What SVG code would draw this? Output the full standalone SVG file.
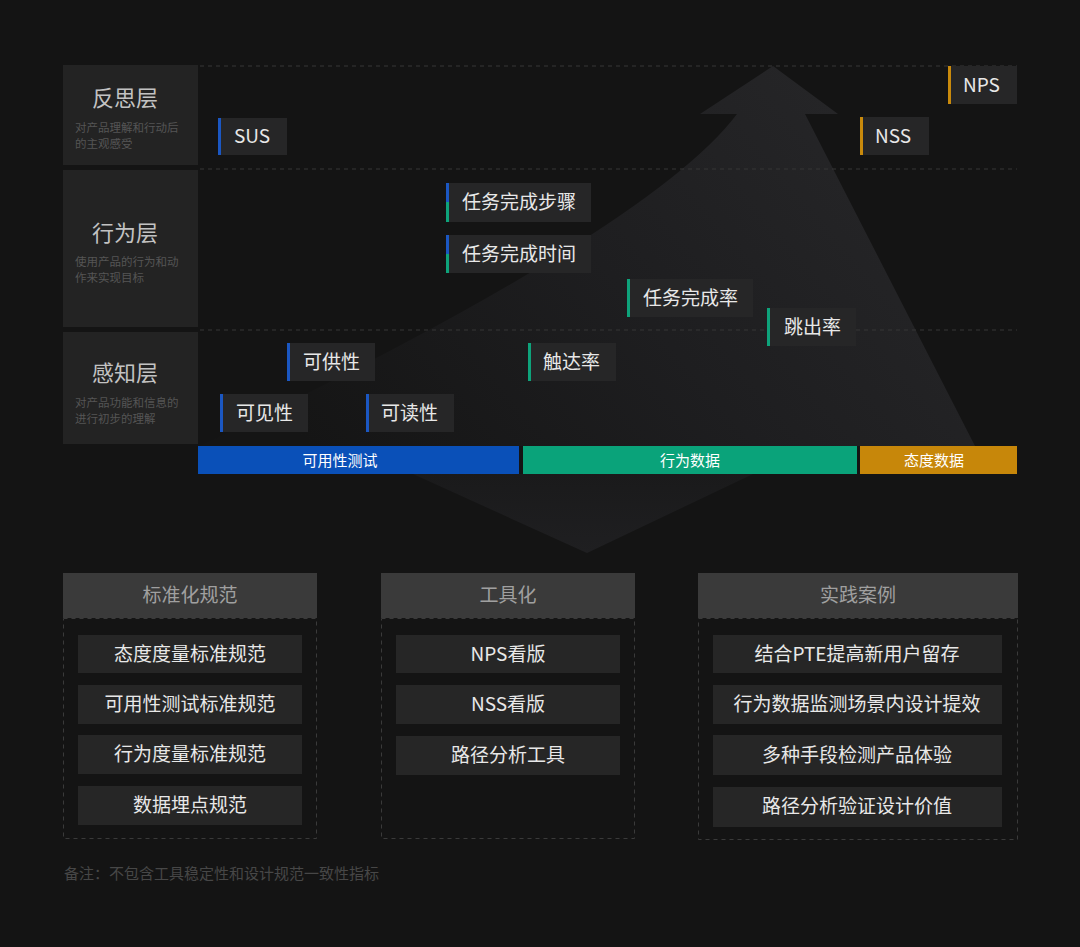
<svg xmlns="http://www.w3.org/2000/svg" width="1080" height="947" viewBox="0 0 1080 947">
<defs>
<linearGradient id="arrowGrad" gradientUnits="userSpaceOnUse" x1="800" y1="66" x2="330" y2="470">
<stop offset="0" stop-color="#252527"/>
<stop offset="0.45" stop-color="#1e1e20"/>
<stop offset="1" stop-color="#151515"/>
</linearGradient>
<linearGradient id="triGrad" gradientUnits="userSpaceOnUse" x1="0" y1="474" x2="0" y2="553">
<stop offset="0" stop-color="#1a1a1b"/>
<stop offset="1" stop-color="#1f1f21"/>
</linearGradient>
<style>
.cjk{font-family:"Noto Sans CJK SC","Noto Sans",sans-serif;}
.rowbox{fill:#232323;}
.rowtitle{font-size:22px;fill:#c2c2c2;text-anchor:middle;}
.rowsub{font-size:11.5px;fill:#555555;}
.dash{stroke:#363636;stroke-width:1;stroke-dasharray:4 4;fill:none;}
.tag{fill:#262627;}
.tagtxt{font-size:19px;fill:#e8e8e8;}
.blue{fill:#1b57c2;}
.green{fill:#0ea37b;}
.orange{fill:#c98a0c;}
.bartxt{font-size:15px;fill:#ffffff;text-anchor:middle;}
.head{fill:#3a3a3a;}
.headtxt{font-size:19px;fill:#a0a0a0;text-anchor:middle;}
.item{fill:#262626;}
.itemtxt{font-size:19px;fill:#e8e8e8;text-anchor:middle;}
.panel{stroke:#3a3a3a;stroke-width:1;stroke-dasharray:4 4;fill:none;}
</style>
</defs>
<rect x="0" y="0" width="1080" height="947" fill="#141414"/>

<!-- big arrow -->
<g id="arrow">
<path d="M773,66 L838,114 L805,114 L975,446 L200,446 Q650,230 737,114 L700,114 Z" fill="url(#arrowGrad)"/>
<path d="M413,474 L753,474 L587,553 Z" fill="url(#triGrad)"/>
</g>

<!-- dashed row lines -->
<g id="connectors">
<line class="dash" x1="200" y1="66" x2="1017" y2="66"/>
<line class="dash" x1="200" y1="169" x2="1017" y2="169"/>
<line class="dash" x1="200" y1="330" x2="1017" y2="330"/>
</g>

<!-- row labels -->
<g id="row-reflect" class="cjk">
<rect class="rowbox" x="63" y="65" width="135" height="100"/>
<text class="rowtitle" x="125" y="106">反思层</text>
<text class="rowsub" x="75" y="132">对产品理解和行动后</text>
<text class="rowsub" x="75" y="148">的主观感受</text>
</g>
<g id="row-behavior" class="cjk">
<rect class="rowbox" x="63" y="170" width="135" height="157"/>
<text class="rowtitle" x="125" y="241">行为层</text>
<text class="rowsub" x="75" y="266">使用产品的行为和动</text>
<text class="rowsub" x="75" y="282">作来实现目标</text>
</g>
<g id="row-perception" class="cjk">
<rect class="rowbox" x="63" y="332" width="135" height="112"/>
<text class="rowtitle" x="125" y="381">感知层</text>
<text class="rowsub" x="75" y="407">对产品功能和信息的</text>
<text class="rowsub" x="75" y="423">进行初步的理解</text>
</g>

<!-- tags -->
<g id="tag-sus" class="cjk">
<rect class="tag" x="218" y="118" width="69" height="37"/>
<rect class="blue" x="218" y="118" width="3" height="37"/>
<text class="tagtxt" x="234" y="143">SUS</text>
</g>
<g id="tag-nps" class="cjk">
<rect class="tag" x="948" y="66" width="69" height="38"/>
<rect class="orange" x="948" y="66" width="3" height="38"/>
<text class="tagtxt" x="963" y="92">NPS</text>
</g>
<g id="tag-nss" class="cjk">
<rect class="tag" x="860" y="117" width="69" height="38"/>
<rect class="orange" x="860" y="117" width="3" height="38"/>
<text class="tagtxt" x="875" y="143">NSS</text>
</g>
<g id="tag-steps" class="cjk">
<rect class="tag" x="446" y="183" width="145" height="39"/>
<rect class="blue" x="446" y="183" width="3" height="19"/>
<rect class="green" x="446" y="202" width="3" height="20"/>
<text class="tagtxt" x="462" y="209">任务完成步骤</text>
</g>
<g id="tag-time" class="cjk">
<rect class="tag" x="446" y="235" width="145" height="38"/>
<rect class="blue" x="446" y="235" width="3" height="19"/>
<rect class="green" x="446" y="254" width="3" height="19"/>
<text class="tagtxt" x="462" y="261">任务完成时间</text>
</g>
<g id="tag-rate" class="cjk">
<rect class="tag" x="627" y="279" width="126" height="38"/>
<rect class="green" x="627" y="279" width="3" height="38"/>
<text class="tagtxt" x="643" y="305">任务完成率</text>
</g>
<g id="tag-bounce" class="cjk">
<rect class="tag" x="767" y="308" width="89" height="38"/>
<rect class="green" x="767" y="308" width="3" height="38"/>
<text class="tagtxt" x="784" y="334">跳出率</text>
</g>
<g id="tag-afford" class="cjk">
<rect class="tag" x="287" y="343" width="88" height="38"/>
<rect class="blue" x="287" y="343" width="3" height="38"/>
<text class="tagtxt" x="303" y="369">可供性</text>
</g>
<g id="tag-reach" class="cjk">
<rect class="tag" x="528" y="343" width="88" height="38"/>
<rect class="green" x="528" y="343" width="3" height="38"/>
<text class="tagtxt" x="543" y="369">触达率</text>
</g>
<g id="tag-visible" class="cjk">
<rect class="tag" x="220" y="394" width="88" height="38"/>
<rect class="blue" x="220" y="394" width="3" height="38"/>
<text class="tagtxt" x="236" y="420">可见性</text>
</g>
<g id="tag-readable" class="cjk">
<rect class="tag" x="366" y="394" width="88" height="38"/>
<rect class="blue" x="366" y="394" width="3" height="38"/>
<text class="tagtxt" x="381" y="420">可读性</text>
</g>

<!-- category bars -->
<g id="bar-usability" class="cjk">
<rect x="198" y="446" width="321" height="28" fill="#0a50b8"/>
<text class="bartxt" x="340" y="466">可用性测试</text>
</g>
<g id="bar-behavior" class="cjk">
<rect x="523" y="446" width="334" height="28" fill="#0aa37a"/>
<text class="bartxt" x="690" y="466">行为数据</text>
</g>
<g id="bar-attitude" class="cjk">
<rect x="860" y="446" width="157" height="28" fill="#c7870a"/>
<text class="bartxt" x="934" y="466">态度数据</text>
</g>

<!-- bottom panels -->
<g id="panel-standard" class="cjk">
<rect class="panel" x="63.5" y="618.5" width="253" height="220"/>
<rect class="head" x="63" y="573" width="254" height="45"/>
<text class="headtxt" x="190" y="602">标准化规范</text>
<rect class="item" x="78" y="635" width="224" height="38"/>
<text class="itemtxt" x="190" y="661">态度度量标准规范</text>
<rect class="item" x="78" y="685" width="224" height="39"/>
<text class="itemtxt" x="190" y="711">可用性测试标准规范</text>
<rect class="item" x="78" y="735" width="224" height="39"/>
<text class="itemtxt" x="190" y="761">行为度量标准规范</text>
<rect class="item" x="78" y="786" width="224" height="39"/>
<text class="itemtxt" x="190" y="812">数据埋点规范</text>
</g>
<g id="panel-tools" class="cjk">
<rect class="panel" x="381.5" y="618.5" width="253" height="220"/>
<rect class="head" x="381" y="573" width="254" height="45"/>
<text class="headtxt" x="508" y="602">工具化</text>
<rect class="item" x="396" y="635" width="224" height="38"/>
<text class="itemtxt" x="508" y="661">NPS看版</text>
<rect class="item" x="396" y="685" width="224" height="39"/>
<text class="itemtxt" x="508" y="711">NSS看版</text>
<rect class="item" x="396" y="736" width="224" height="39"/>
<text class="itemtxt" x="508" y="762">路径分析工具</text>
</g>
<g id="panel-cases" class="cjk">
<rect class="panel" x="698.5" y="618.5" width="319" height="221"/>
<rect class="head" x="698" y="573" width="320" height="45"/>
<text class="headtxt" x="858" y="602">实践案例</text>
<rect class="item" x="713" y="635" width="289" height="38"/>
<text class="itemtxt" x="857" y="661">结合PTE提高新用户留存</text>
<rect class="item" x="713" y="685" width="289" height="39"/>
<text class="itemtxt" x="857" y="711">行为数据监测场景内设计提效</text>
<rect class="item" x="713" y="735" width="289" height="40"/>
<text class="itemtxt" x="857" y="762">多种手段检测产品体验</text>
<rect class="item" x="713" y="787" width="289" height="40"/>
<text class="itemtxt" x="857" y="813">路径分析验证设计价值</text>
</g>

<g id="note" class="cjk">
<text x="64" y="879" font-size="15" fill="#474747">备注：不包含工具稳定性和设计规范一致性指标</text>
</g>
</svg>
